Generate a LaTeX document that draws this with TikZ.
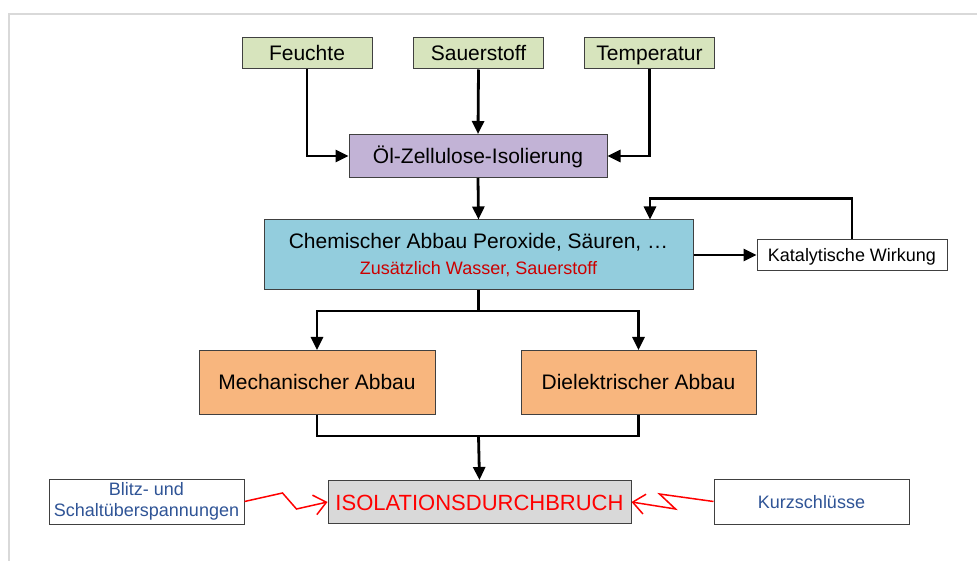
\documentclass[tikz,border=0pt]{standalone}
\usepackage{fontspec}
\setmainfont{Liberation Sans}
\usetikzlibrary{arrows.meta,calc}

\definecolor{gruen}{HTML}{D7E4BD}
\definecolor{lila}{HTML}{C2B3D6}
\definecolor{blau}{HTML}{93CDDD}
\definecolor{orange}{HTML}{F8B67E}
\definecolor{grau}{HTML}{D9D9D9}
\definecolor{rahmen}{HTML}{D9D9D9}
\definecolor{dunkelblau}{HTML}{2F5496}
\definecolor{dunkelrot}{HTML}{CC0000}

\tikzset{
    kasten/.style={draw=black!75, line width=1pt, inner sep=2pt, align=center},
    gross/.style={font=\fontsize{21}{25}\selectfont, text height=15pt, text depth=0pt},
    klein/.style={font=\fontsize{18}{22}\selectfont, text height=13pt, text depth=0pt},
    einfluss/.style={kasten, gross, fill=gruen, minimum width=130, minimum height=31},
    pfeil/.style={line width=2.8pt, -{Triangle[length=13pt,width=12pt]}},
    linie/.style={line width=2.8pt},
    blitzpfeil/.style={red, line width=1.5pt, -{Straight Barb[length=12pt,width=20pt]}}
}

\begin{document}
\begin{tikzpicture}[x=1pt, y=-1pt]

    \useasboundingbox (0,0) rectangle (978,561);

    % --- Rahmen ---
    \draw[rahmen, line width=2.5pt] (977,14) -- (9,14) -- (9,561);

    % --- Einflussgroessen ---
    \node[einfluss] (feuchte) at (307,53.5) {Feuchte};
    \node[einfluss] (sauer) at (478.5,53.5) {Sauerstoff};
    \node[einfluss] (temp) at (649.5,53.5) {Temperatur};

    % Isolierung
    \node[kasten, gross, fill=lila, minimum width=258, minimum height=43]
        (isol) at (478,156) {Öl-Zellulose-Isolierung};

    \draw[pfeil] (feuchte.south) |- (isol.west);
    \draw[pfeil] (sauer.south) -- (isol.north);
    \draw[pfeil] (temp.south) |- (isol.east);

    % --- Chemischer Abbau ---
    \node[kasten, fill=blau, minimum width=429, minimum height=70, font=\fontsize{21}{28}\selectfont]
        (chem) at (478.5,255) {Chemischer Abbau Peroxide, Säuren, …\\[-2pt]
        {\color{dunkelrot}\fontsize{18}{22}\selectfont Zusätzlich Wasser, Sauerstoff}};
    \node[kasten, klein, fill=white, minimum width=190, minimum height=31]
        (kat) at (852,255) {Katalytische Wirkung};

    \draw[pfeil] (isol.south) -- (chem.north);
    \draw[pfeil] (chem.east) -- (kat.west);
    % Rueckkopplung
    \draw[pfeil] (kat.north) -- ++(0,-40.5) -| ([xshift=171.5pt]chem.north);

    % --- Mechanischer / Dielektrischer Abbau ---
    \node[kasten, gross, fill=orange, minimum width=236, minimum height=64]
        (mech) at (317,382.5) {Mechanischer Abbau};
    \node[kasten, gross, fill=orange, minimum width=235, minimum height=64]
        (diel) at (638.5,382.5) {Dielektrischer Abbau};

    \coordinate (teil) at (478.5,311);
    \draw[linie] (chem.south) -- (teil);
    \draw[pfeil] (teil) -| (mech.north);
    \draw[pfeil] (teil) -| (diel.north);

    % --- Durchbruch ---
    \node[kasten, fill=grau, minimum width=303, minimum height=43, text=red,
        font=\fontsize{22}{26}\selectfont, text height=16pt, text depth=0pt]
        (durch) at (479.5,502) {ISOLATIONSDURCHBRUCH};

    \coordinate (zus) at (478.5,436);
    \draw[linie] (mech.south) |- (zus) -| (diel.south);
    \draw[pfeil] (zus) -- (durch.north);

    % Aeussere Einfluesse
    \node[kasten, fill=white, minimum width=195, minimum height=45, text=dunkelblau,
        font=\fontsize{18}{21}\selectfont]
        (blitz) at (146.5,501.5) {Blitz- und\\Schaltüberspannungen};
    \node[kasten, klein, fill=white, minimum width=195, minimum height=45, text=dunkelblau]
        (kurz) at (811.5,501.5) {Kurzschlüsse};

    \draw[blitzpfeil] (blitz.east) -- ++(38,-8.5) -- ++(14,16) -- (durch.west);
    \draw[blitzpfeil] (kurz.west) -- ++(-54,-7.5) -- ++(16,15) -- (durch.east);

\end{tikzpicture}
\end{document}
